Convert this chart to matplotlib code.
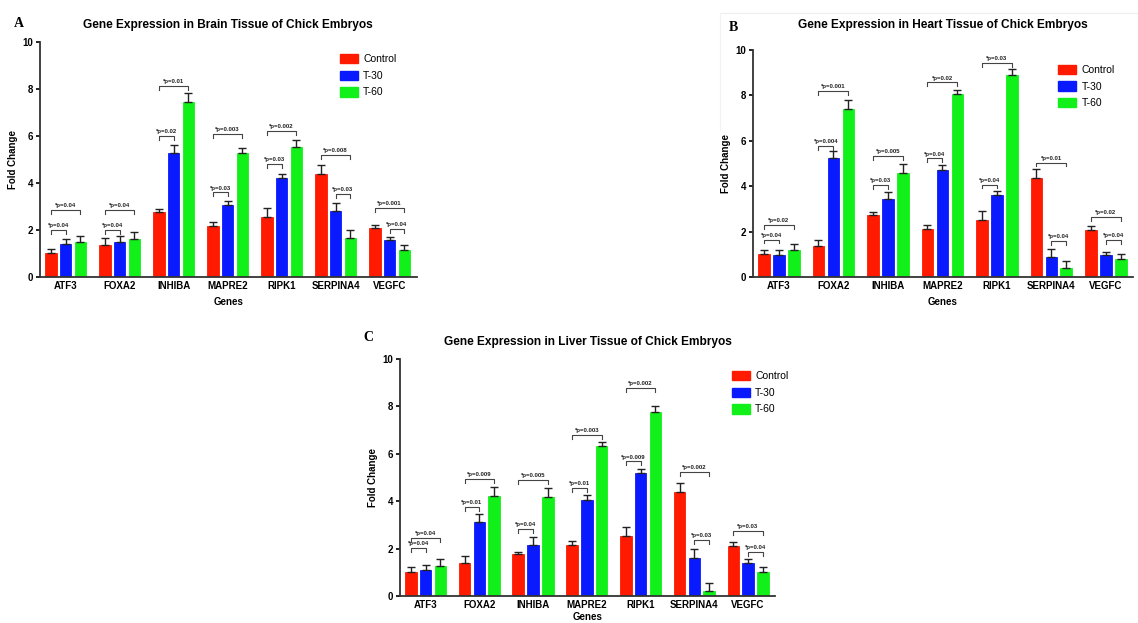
import numpy as np
import matplotlib
matplotlib.use('Agg')
import matplotlib.pyplot as plt
from matplotlib.patches import Patch

plt.rcParams['font.family'] = ['Liberation Sans', 'DejaVu Sans']

genes = ['ATF3', 'FOXA2', 'INHIBA', 'MAPRE2', 'RIPK1', 'SERPINA4', 'VEGFC']
groups = ['Control', 'T-30', 'T-60']
colors = ['#ff1a00', '#0a1aff', '#12f01a']

# brain tissue
brain_control = [1.0, 1.38, 2.78, 2.15, 2.55, 4.4, 2.08]
brain_t30 = [1.4, 1.48, 5.28, 3.05, 4.22, 2.8, 1.56]
brain_t60 = [1.48, 1.62, 7.45, 5.28, 5.55, 1.65, 1.16]
brain_control_err = [0.2, 0.3, 0.1, 0.18, 0.4, 0.38, 0.15]
brain_t30_err = [0.22, 0.28, 0.33, 0.2, 0.18, 0.35, 0.15]
brain_t60_err = [0.27, 0.28, 0.38, 0.2, 0.28, 0.35, 0.2]
brain_pvals = [
    ('ATF3', 0, 1, 2.0, '*p=0.04'), ('ATF3', 0, 2, 2.85, '*p=0.04'),
    ('FOXA2', 0, 1, 2.0, '*p=0.04'), ('FOXA2', 0, 2, 2.85, '*p=0.04'),
    ('INHIBA', 0, 1, 6.0, '*p=0.02'), ('INHIBA', 0, 2, 8.15, '*p=0.01'),
    ('MAPRE2', 0, 1, 3.6, '*p=0.03'), ('MAPRE2', 0, 2, 6.1, '*p=0.003'),
    ('RIPK1', 0, 1, 4.82, '*p=0.03'), ('RIPK1', 0, 2, 6.2, '*p=0.002'),
    ('SERPINA4', 0, 2, 5.18, '*p=0.008'), ('SERPINA4', 1, 2, 3.55, '*p=0.03'),
    ('VEGFC', 0, 2, 2.95, '*p=0.001'), ('VEGFC', 1, 2, 2.06, '*p=0.04'),
]

# heart tissue
heart_control = [1.0, 1.35, 2.75, 2.1, 2.52, 4.38, 2.08]
heart_t30 = [0.98, 5.25, 3.42, 4.72, 3.6, 0.9, 0.97]
heart_t60 = [1.17, 7.42, 4.6, 8.05, 8.9, 0.38, 0.8]
heart_control_err = [0.2, 0.3, 0.1, 0.18, 0.4, 0.38, 0.15]
heart_t30_err = [0.2, 0.32, 0.33, 0.2, 0.17, 0.35, 0.15]
heart_t60_err = [0.27, 0.38, 0.37, 0.18, 0.27, 0.33, 0.21]
heart_pvals = [
    ('ATF3', 0, 1, 1.65, '*p=0.04'), ('ATF3', 0, 2, 2.28, '*p=0.02'),
    ('FOXA2', 0, 1, 5.78, '*p=0.004'), ('FOXA2', 0, 2, 8.2, '*p=0.001'),
    ('INHIBA', 0, 1, 4.04, '*p=0.03'), ('INHIBA', 0, 2, 5.34, '*p=0.005'),
    ('MAPRE2', 0, 1, 5.22, '*p=0.04'), ('MAPRE2', 0, 2, 8.57, '*p=0.02'),
    ('RIPK1', 0, 1, 4.07, '*p=0.04'), ('RIPK1', 0, 2, 9.44, '*p=0.03'),
    ('SERPINA4', 0, 2, 5.04, '*p=0.01'), ('SERPINA4', 1, 2, 1.59, '*p=0.04'),
    ('VEGFC', 0, 2, 2.65, '*p=0.02'), ('VEGFC', 1, 2, 1.62, '*p=0.04'),
]

# liver tissue
liver_control = [1.0, 1.38, 1.77, 2.14, 2.55, 4.41, 2.11]
liver_t30 = [1.1, 3.14, 2.15, 4.06, 5.18, 1.62, 1.38]
liver_t60 = [1.27, 4.22, 4.17, 6.31, 7.75, 0.23, 1.03]
liver_control_err = [0.22, 0.3, 0.1, 0.18, 0.38, 0.35, 0.17]
liver_t30_err = [0.2, 0.32, 0.35, 0.21, 0.19, 0.35, 0.17]
liver_t60_err = [0.28, 0.4, 0.38, 0.21, 0.28, 0.33, 0.18]
liver_pvals = [
    ('ATF3', 0, 1, 2.04, '*p=0.04'), ('ATF3', 0, 2, 2.44, '*p=0.04'),
    ('FOXA2', 0, 1, 3.75, '*p=0.01'), ('FOXA2', 0, 2, 4.94, '*p=0.009'),
    ('INHIBA', 0, 1, 2.82, '*p=0.04'), ('INHIBA', 0, 2, 4.9, '*p=0.005'),
    ('MAPRE2', 0, 1, 4.55, '*p=0.01'), ('MAPRE2', 0, 2, 6.8, '*p=0.003'),
    ('RIPK1', 0, 1, 5.68, '*p=0.009'), ('RIPK1', 0, 2, 8.77, '*p=0.002'),
    ('SERPINA4', 0, 2, 5.25, '*p=0.002'), ('SERPINA4', 1, 2, 2.37, '*p=0.03'),
    ('VEGFC', 0, 2, 2.76, '*p=0.03'), ('VEGFC', 1, 2, 1.87, '*p=0.04'),
]

BAR_W = 0.215
STEP = 0.275


def draw_panel(ax, title, letter, values, errors, pvals, legend_pos,
               title_pad, letter_pos, xlabel_pad):
    x = np.arange(len(genes))
    for k in range(3):
        xs = x + (k - 1) * STEP
        ax.bar(xs, values[k], width=BAR_W, color=colors[k],
               edgecolor=colors[k], linewidth=0.6, zorder=2, label=groups[k])
        ax.errorbar(xs, values[k], yerr=[np.zeros(len(genes)), errors[k]],
                    fmt='none', ecolor='#222222', elinewidth=1.0,
                    capsize=2.6, capthick=1.0, zorder=3)

    for gene, i, j, y, txt in pvals:
        g = genes.index(gene)
        x1 = g + (i - 1) * STEP
        x2 = g + (j - 1) * STEP
        ax.plot([x1, x1, x2, x2], [y - 0.17, y, y, y - 0.17],
                color='#444444', lw=0.8, zorder=4)
        ax.text((x1 + x2) / 2, y + 0.08, txt, ha='center', va='bottom',
                fontsize=4.3, fontweight='bold', color='#222222')

    ax.set_xlim(-0.475, 6.5)
    ax.set_ylim(0, 10)
    ax.set_yticks([0, 2, 4, 6, 8, 10])
    ax.set_xticks(x)
    ax.set_xticklabels(genes, fontsize=7, fontweight='bold')
    ax.tick_params(axis='x', length=0, pad=3)
    ax.tick_params(axis='y', labelsize=7, length=3, width=1.2, pad=2)
    for lab in ax.get_yticklabels():
        lab.set_fontweight('bold')
    ax.spines['top'].set_visible(False)
    ax.spines['right'].set_visible(False)
    ax.spines['left'].set_linewidth(1.3)
    ax.spines['bottom'].set_linewidth(1.3)
    ax.spines['left'].set_color('#333333')
    ax.spines['bottom'].set_color('#333333')
    ax.set_ylabel('Fold Change', fontsize=7, fontweight='bold', labelpad=3)
    ax.set_xlabel('Genes', fontsize=7, fontweight='bold', labelpad=xlabel_pad)
    ax.set_title(title, fontsize=8.6, fontweight='bold', pad=title_pad)

    handles = [Patch(facecolor=c, edgecolor=c) for c in colors]
    ax.legend(handles, groups, loc='upper left', bbox_to_anchor=legend_pos,
              frameon=False, fontsize=7.5, handlelength=1.75, handleheight=1.0,
              labelspacing=0.62, handletextpad=0.5, borderaxespad=0,
              borderpad=0)
    ax.text(letter_pos[0], letter_pos[1], letter, transform=ax.transAxes,
            fontsize=10, fontweight='bold', family='Liberation Serif',
            ha='right', va='center')


fig = plt.figure(figsize=(11.38, 6.23), dpi=100)

# faint frame edge seen around panel B in the source image
fig.add_artist(plt.Line2D([720 / 1138, 1.0], [1 - 12.5 / 623, 1 - 12.5 / 623],
                          color='#eeeeee', lw=0.8))
fig.add_artist(plt.Line2D([720 / 1138, 720 / 1138], [1 - 12.5 / 623, 1 - 130 / 623],
                          color='#f2f2f2', lw=0.8))

ax_a = fig.add_axes([0.0351, 0.5554, 0.331, 0.377])
draw_panel(ax_a, 'Gene Expression in Brain Tissue of Chick Embryos', 'A',
           [brain_control, brain_t30, brain_t60],
           [brain_control_err, brain_t30_err, brain_t60_err],
           brain_pvals, (0.796, 0.95), 10, (-0.042, 1.08), 4)

ax_b = fig.add_axes([0.6617, 0.5554, 0.334, 0.3644])
draw_panel(ax_b, 'Gene Expression in Heart Tissue of Chick Embryos', 'B',
           [heart_control, heart_t30, heart_t60],
           [heart_control_err, heart_t30_err, heart_t60_err],
           heart_pvals, (0.803, 0.935), 16, (-0.04, 1.097), 4)

ax_c = fig.add_axes([0.3515, 0.0433, 0.3295, 0.3804])
draw_panel(ax_c, 'Gene Expression in Liver Tissue of Chick Embryos', 'C',
           [liver_control, liver_t30, liver_t60],
           [liver_control_err, liver_t30_err, liver_t60_err],
           liver_pvals, (0.885, 0.95), 10, (-0.072, 1.089), 1)

fig.savefig('out.png', dpi=100)
